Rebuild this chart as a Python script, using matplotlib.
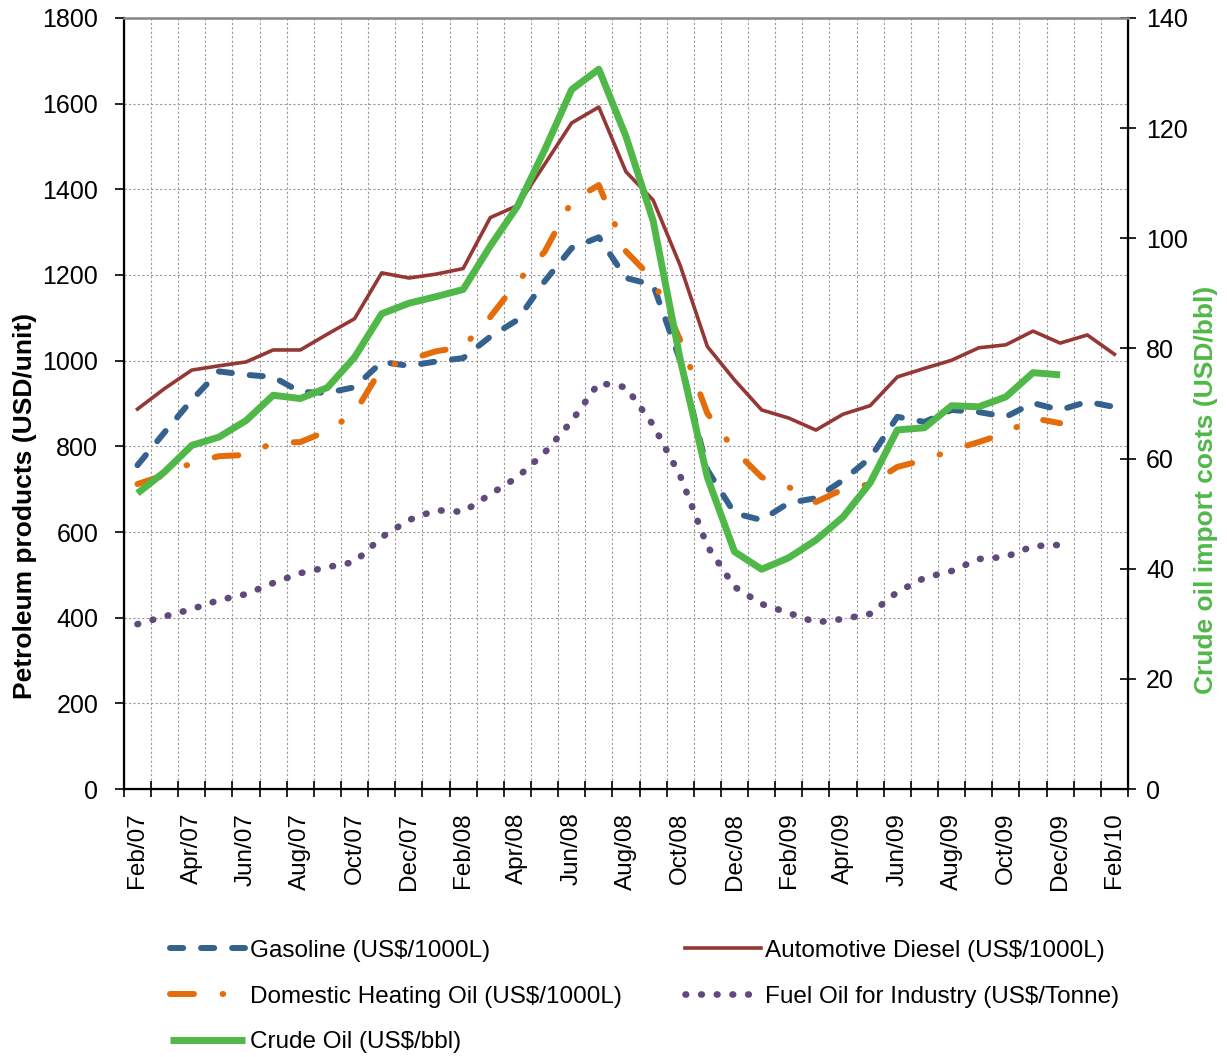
import numpy as np
import matplotlib
matplotlib.use('Agg')
import matplotlib.pyplot as plt
from matplotlib.ticker import FixedLocator, NullFormatter

plt.rcParams['font.family'] = ['Liberation Sans', 'DejaVu Sans']

# %%---------------------------------------------------------------------------------
months = ['Feb/07', 'Mar/07', 'Apr/07', 'May/07', 'Jun/07', 'Jul/07', 'Aug/07', 'Sep/07',
          'Oct/07', 'Nov/07', 'Dec/07', 'Jan/08', 'Feb/08', 'Mar/08', 'Apr/08', 'May/08',
          'Jun/08', 'Jul/08', 'Aug/08', 'Sep/08', 'Oct/08', 'Nov/08', 'Dec/08', 'Jan/09',
          'Feb/09', 'Mar/09', 'Apr/09', 'May/09', 'Jun/09', 'Jul/09', 'Aug/09', 'Sep/09',
          'Oct/09', 'Nov/09', 'Dec/09', 'Jan/10', 'Feb/10']

gasoline = [756, 833, 908, 975, 967, 962, 927, 925, 938, 997, 988, 998, 1006, 1056, 1095,
            1185, 1263, 1288, 1193, 1177, 1000, 745, 644, 628, 668, 679, 721, 773, 869, 857,
            885, 880, 869, 901, 885, 904, 892]
diesel = [887, 935, 978, 988, 997, 1025, 1025, 1062, 1098, 1205, 1193, 1202, 1215, 1334,
          1362, 1458, 1555, 1592, 1441, 1375, 1222, 1033, 955, 885, 866, 838, 875, 895, 962,
          982, 1001, 1030, 1037, 1069, 1041, 1060, 1015]
heating = [712, 733, 761, 777, 780, 808, 810, 836, 878, 983, 1002, 1022, 1032, 1102, 1184,
           1254, 1372, 1410, 1255, 1190, 1048, 877, 791, 728, 705, 670, 700, 712, 752, 768,
           791, 810, 831, 866, 854]
fuel = [385, 403, 420, 441, 455, 481, 504, 518, 530, 588, 628, 651, 647, 688, 728, 785, 859,
        948, 938, 850, 731, 567, 472, 432, 411, 389, 397, 409, 460, 493, 509, 537, 542, 567,
        570]
crude = [53.7, 57.6, 62.4, 63.9, 66.9, 71.5, 70.9, 72.9, 78.4, 86.3, 88.2, 89.4, 90.7, 98.6,
         105.8, 116.0, 127.0, 130.7, 118.5, 103.2, 78.0, 56.6, 43.1, 39.9, 42.0, 45.2, 49.4,
         55.6, 65.2, 65.6, 69.6, 69.4, 71.2, 75.6, 75.2]

# %%---------------------------------------------------------------------------------
x = np.arange(len(months))

fig = plt.figure(figsize=(12.27, 10.57), dpi=100)
ax = fig.add_axes([0.1010, 0.2535, 0.8183, 0.7295])
ax2 = ax.twinx()

l_gas, = ax.plot(x[:len(gasoline)], gasoline, color='#35618F', lw=4.3,
                 dash_capstyle='round', dashes=(2.2, 3.0))
l_die, = ax.plot(x[:len(diesel)], diesel, color='#953735', lw=2.6)
l_hea, = ax.plot(x[:len(heating)], heating, color='#E46C0A', lw=4.3,
                 dash_capstyle='round', dashes=(4.0, 4.8, 0.1, 4.8))
l_fue, = ax.plot(x[:len(fuel)], fuel, color='#5F4A7B', lw=4.8,
                 dash_capstyle='round', dashes=(0.1, 2.25))
l_cru, = ax2.plot(x[:len(crude)], crude, color='#50B848', lw=5.0, solid_capstyle='butt')

ax.set_xlim(-0.5, len(months) - 0.5)
ax.set_ylim(0, 1800)
ax.set_yticks(np.arange(0, 1801, 200))
ax2.set_ylim(0, 140)
ax2.set_yticks(np.arange(0, 141, 20))

ax.set_xticks(x[::2])
ax.set_xticklabels(months[::2], rotation=90, fontsize=17.5)
ax.xaxis.set_minor_locator(FixedLocator(np.arange(-0.5, len(months), 1.0)))
ax.xaxis.set_minor_formatter(NullFormatter())
ax.tick_params(axis='x', which='major', length=0, pad=17)
ax.tick_params(axis='x', which='minor', direction='inout', length=11, width=1.2)
ax.tick_params(axis='y', direction='out', length=6.5, width=1.2, labelsize=18, pad=12)
ax2.tick_params(axis='y', direction='inout', length=12, width=1.2, labelsize=18, pad=7)

ax.grid(True, which='minor', axis='x', color='#999999', ls=(0, (2, 2)), lw=0.8)
ax.grid(True, which='major', axis='y', color='#999999', ls=(0, (2, 2)), lw=0.8)
ax.set_axisbelow(True)

for s in ['left', 'bottom']:
    ax.spines[s].set_linewidth(1.6)
ax2.spines['right'].set_linewidth(1.6)
ax2.spines['top'].set_color('#888888')
ax2.spines['top'].set_linewidth(1.8)

ax.set_ylabel('Petroleum products (USD/unit)', fontsize=19, fontweight='bold')
ax.yaxis.set_label_coords(-0.087, 0.367)
ax2.set_ylabel('Crude oil import costs (USD/bbl)', fontsize=19, fontweight='bold',
               color='#50B848')
ax2.yaxis.set_label_coords(1.066, 0.388)

fig.legend([l_gas, l_hea, l_cru, l_die, l_fue],
           ['Gasoline (US$/1000L)', 'Domestic Heating Oil (US$/1000L)', 'Crude Oil (US$/bbl)',
            'Automotive Diesel (US$/1000L)', 'Fuel Oil for Industry (US$/Tonne)'],
           ncol=2, loc='upper left', bbox_to_anchor=(0.1385, 0.1107), frameon=False,
           fontsize=17.5, handlelength=3.1, handletextpad=0.2, columnspacing=2.6,
           labelspacing=0.97, borderaxespad=0, borderpad=0)

fig.savefig('out.png', dpi=100)
